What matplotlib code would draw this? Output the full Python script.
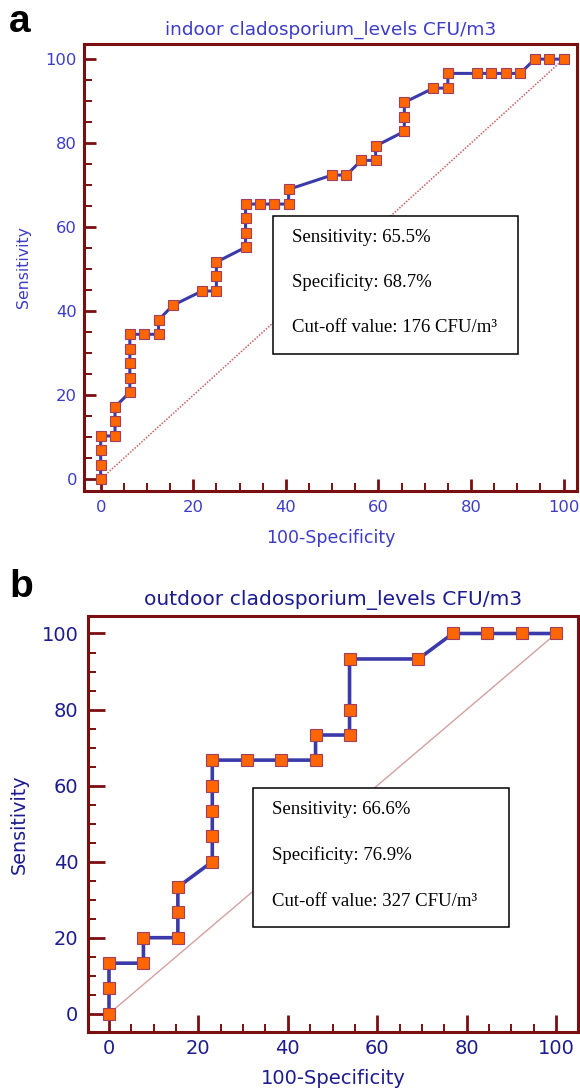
import matplotlib
matplotlib.use('Agg')
import matplotlib.pyplot as plt
from matplotlib.ticker import MultipleLocator
from matplotlib.patches import Rectangle

# ---- Panel a: indoor ----
a_title = "indoor cladosporium_levels CFU/m3"
a_fpr = [0, 0, 0, 0, 3.1, 3.1, 3.1, 6.3, 6.3, 6.3, 6.3, 6.3, 9.4, 12.5, 12.5,
         15.6, 21.9, 25.0, 25.0, 25.0, 31.3, 31.3, 31.3, 31.3, 34.4, 37.5,
         40.6, 40.6, 50.0, 53.1, 56.3, 59.4, 59.4, 65.6, 65.6, 65.6, 71.9,
         75.0, 75.0, 81.3, 84.4, 87.5, 90.6, 93.8, 96.9, 100]
a_tpr = [0, 3.4, 6.9, 10.3, 10.3, 13.8, 17.2, 20.7, 24.1, 27.6, 31.0, 34.5,
         34.5, 34.5, 37.9, 41.4, 44.8, 44.8, 48.3, 51.7, 55.2, 58.6, 62.1,
         65.5, 65.5, 65.5, 65.5, 69.0, 72.4, 72.4, 75.9, 75.9, 79.3, 82.8,
         86.2, 89.7, 93.1, 93.1, 96.6, 96.6, 96.6, 96.6, 96.6, 100, 100, 100]
a_box = ["Sensitivity: 65.5%", "Specificity: 68.7%", "Cut-off value: 176 CFU/m\u00b3"]

# ---- Panel b: outdoor ----
b_title = "outdoor cladosporium_levels CFU/m3"
b_fpr = [0, 0, 0, 7.7, 7.7, 15.4, 15.4, 15.4, 23.1, 23.1, 23.1, 23.1, 23.1,
         30.8, 38.5, 46.2, 46.2, 53.8, 53.8, 53.8, 69.2, 76.9, 84.6, 92.3, 100]
b_tpr = [0, 6.7, 13.3, 13.3, 20, 20, 26.7, 33.3, 40, 46.7, 53.3, 60, 66.7,
         66.7, 66.7, 66.7, 73.3, 73.3, 80, 93.3, 93.3, 100, 100, 100, 100]
b_box = ["Sensitivity: 66.6%", "Specificity: 76.9%", "Cut-off value: 327 CFU/m\u00b3"]

ticks = [0, 20, 40, 60, 80, 100]
xlabel = "100-Specificity"
ylabel = "Sensitivity"

W, H = 580, 1090
fig = plt.figure(figsize=(W / 100, H / 100), dpi=100)
fig.patch.set_facecolor('white')

def fx(px):
    return px / W

def fy(py):
    return 1 - py / H

SPINE = '#7b0e0e'
LINE = '#3a3aaa'
FACE = '#ff6600'
EDGE = '#a04060'

def make_panel(rect_px, xlim, ylim, fpr, tpr, title, box_px, box_lines, line_x, line_ys,
               lab_color, tick_fs, tl_major, tl_minor, tpad_x, tpad_y, ms, lw,
               diag_style, title_y, title_fs, xlab_y, xlab_fs, ylab_x, ylab_fs):
    l, t, r, b = rect_px
    ax = fig.add_axes([fx(l), fy(b), fx(r) - fx(l), fy(t) - fy(b)])
    ax.set_xlim(*xlim)
    ax.set_ylim(*ylim)
    for s in ax.spines.values():
        s.set_color(SPINE)
        s.set_linewidth(2.2)
    ax.set_xticks(ticks)
    ax.set_yticks(ticks)
    ax.xaxis.set_minor_locator(MultipleLocator(5))
    ax.yaxis.set_minor_locator(MultipleLocator(5))
    ax.tick_params(which='both', direction='in', top=False, right=False, color=SPINE)
    ax.tick_params(which='major', length=tl_major, width=2.0, labelsize=tick_fs,
                   labelcolor=lab_color)
    ax.tick_params(which='minor', length=tl_minor, width=1.4)
    ax.tick_params(axis='x', which='major', pad=tpad_x)
    ax.tick_params(axis='y', which='major', pad=tpad_y)
    for lab in ax.get_xticklabels() + ax.get_yticklabels():
        lab.set_fontfamily('DejaVu Sans')
    # diagonal reference
    ax.plot([0, 100], [0, 100], zorder=2, clip_on=False, **diag_style)
    # ROC curve
    ax.plot(fpr, tpr, color=LINE, lw=lw, marker='s', ms=ms, mfc=FACE, mec=EDGE,
            mew=0.8, zorder=5, clip_on=False)
    # info box
    bl, bt, br, bb = box_px
    rect = Rectangle((fx(bl), fy(bb)), fx(br) - fx(bl), fy(bt) - fy(bb),
                     transform=fig.transFigure, facecolor='white', edgecolor='black',
                     lw=1.1, zorder=3)
    ax.add_patch(rect)
    for txt, yy in zip(box_lines, line_ys):
        ax.text(fx(line_x), fy(yy), txt, transform=fig.transFigure, ha='left',
                va='center', fontsize=13.5, family='Liberation Serif', color='black',
                zorder=4)
    cx = (l + r) / 2
    fig.text(fx(cx), fy(title_y), title, ha='center', va='baseline',
             fontsize=title_fs, color=lab_color, family='DejaVu Sans')
    fig.text(fx(cx), fy(xlab_y), xlabel, ha='center', va='center',
             fontsize=xlab_fs, color=lab_color, family='DejaVu Sans')
    fig.text(fx(ylab_x), fy((t + b) / 2), ylabel, ha='center', va='center',
             rotation=90, fontsize=ylab_fs, color=lab_color, family='DejaVu Sans')
    return ax

make_panel((84, 44, 577, 491), (-3.6, 102.9), (-2.8, 103.6), a_fpr, a_tpr, a_title,
           (273.3, 216, 517.7, 354.3), a_box, 292, (237, 282, 328),
           '#3c3cc8', 11.8, 8.5, 5.5, 6.5, 5, 7.2, 2.2,
           dict(color='#c86060', lw=1.1, ls=(0, (1, 1))),
           35, 13.3, 538, 12.5, 24, 11.3)

make_panel((88, 616, 578, 1032), (-4.7, 104.9), (-4.8, 104.6), b_fpr, b_tpr, b_title,
           (252.7, 787.7, 509.3, 927.3), b_box, 271.7, (809, 855, 901),
           '#1c1c90', 14, 12, 6, 5, 7, 8.4, 2.6,
           dict(color='#d4a0a0', lw=1.0, ls='-'),
           605, 14.6, 1078, 14, 19, 13.8)

fig.text(fx(9), fy(32), 'a', ha='left', va='baseline', fontsize=28,
         fontweight='bold', family='Liberation Sans', color='black')
fig.text(fx(9), fy(597), 'b', ha='left', va='baseline', fontsize=28,
         fontweight='bold', family='Liberation Sans', color='black')

fig.savefig('out.png', dpi=100, facecolor='white')
